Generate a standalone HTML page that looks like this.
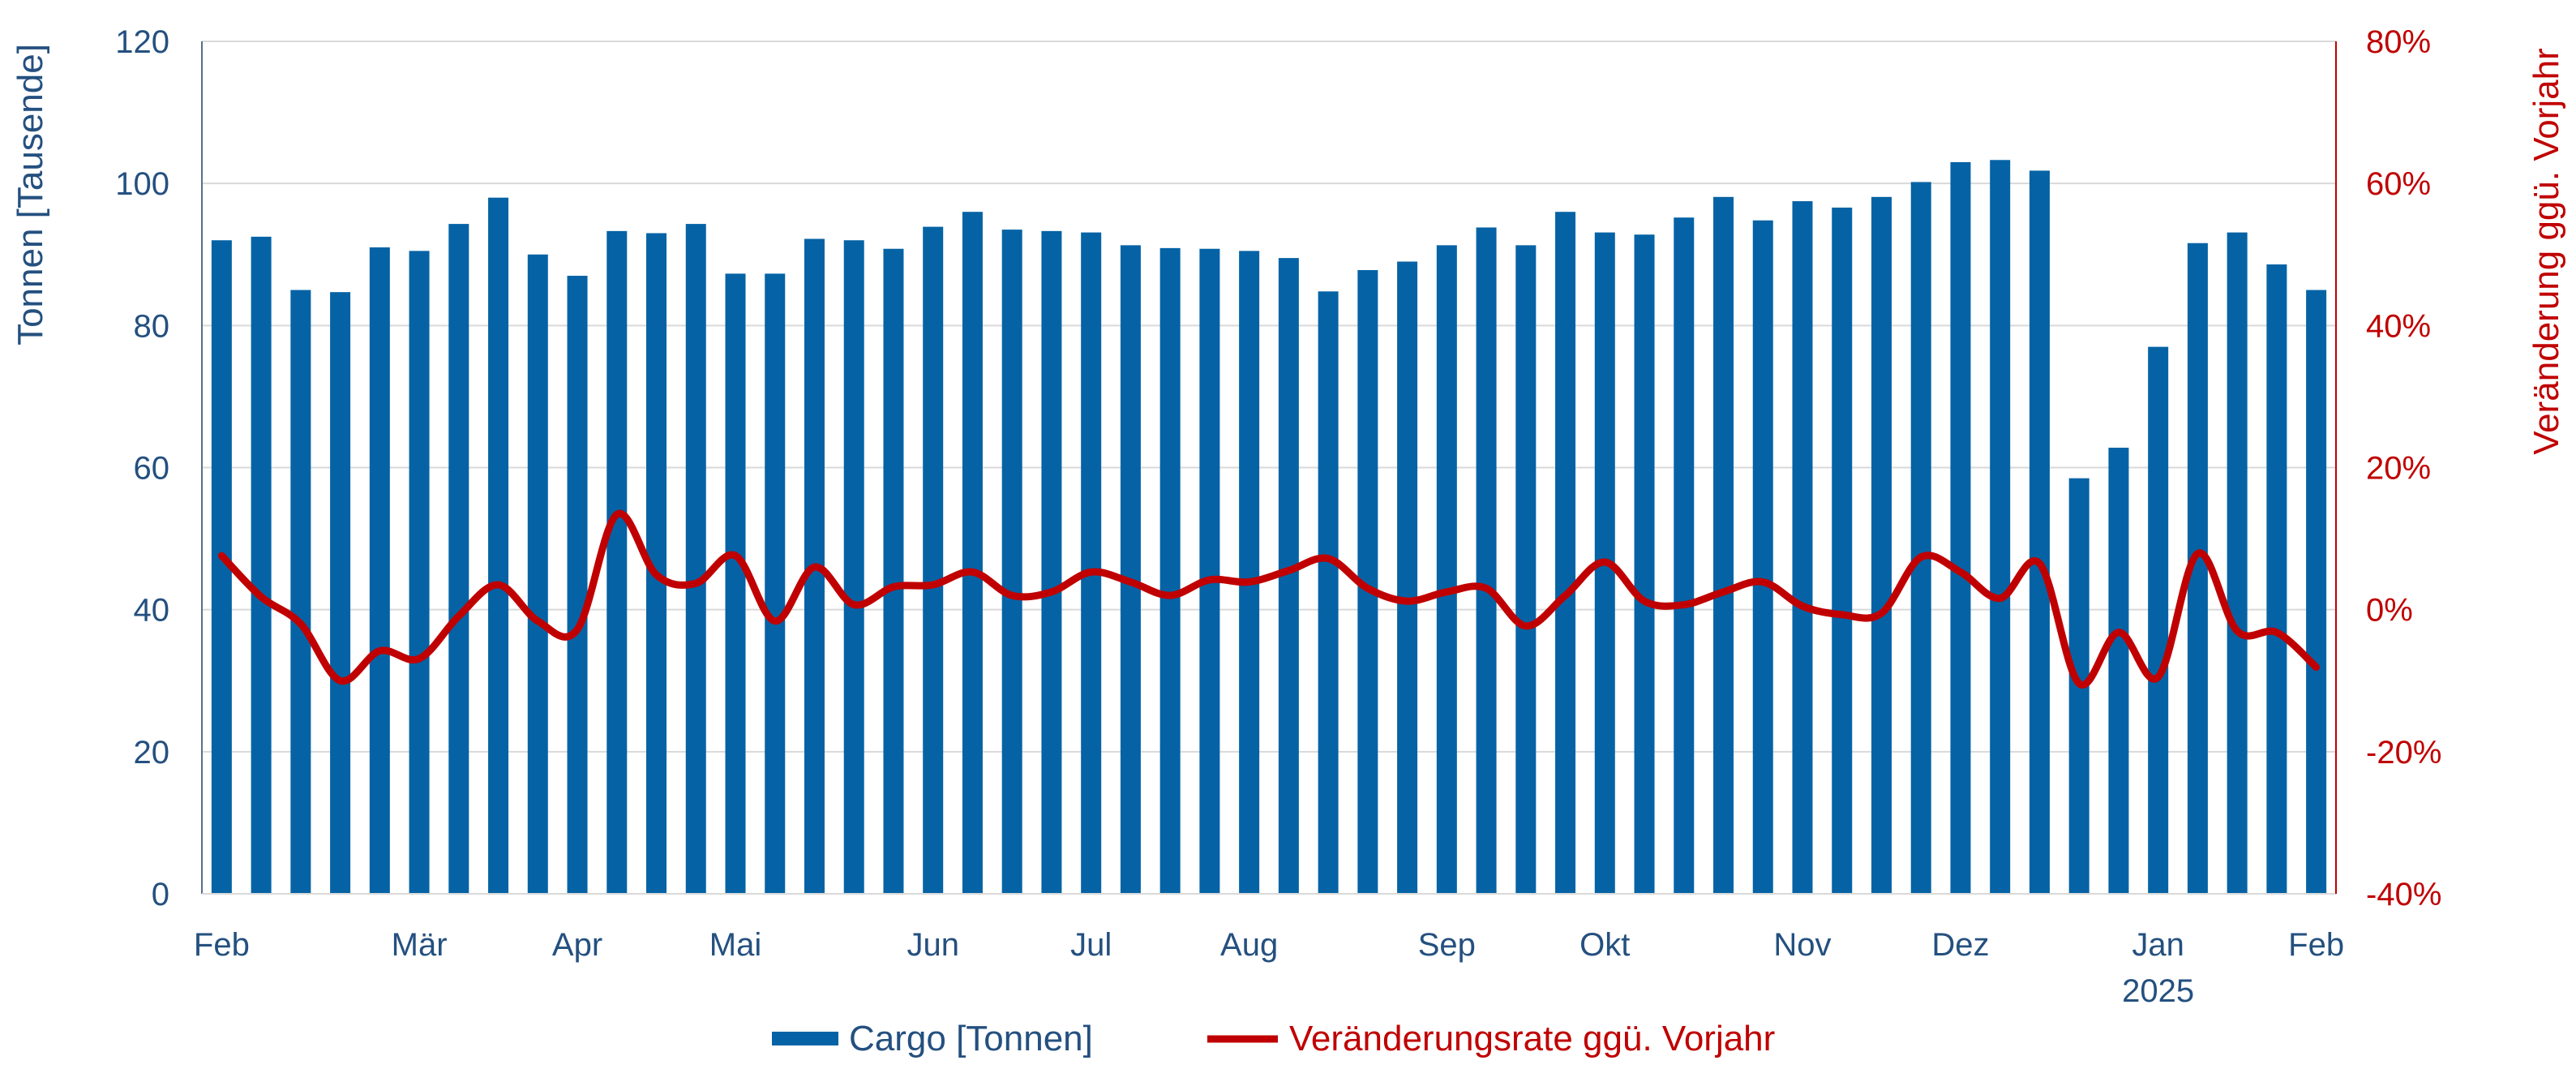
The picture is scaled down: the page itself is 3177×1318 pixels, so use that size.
<!DOCTYPE html>
<html><head><meta charset="utf-8"><style>
body{margin:0;background:#fff}
svg{display:block;font-family:"Liberation Sans",Arial,sans-serif}
</style></head><body>
<svg id="c" width="3177" height="1318" viewBox="0 0 3177 1318"></svg>
<script>
const cargo=[92,92.5,85,84.7,91,90.5,94.3,98,90,87,93.3,93,94.3,87.3,87.3,92.2,92,90.8,93.9,96,93.5,93.3,93.1,91.3,90.9,90.8,90.5,89.5,84.8,87.8,89,91.3,93.8,91.3,96,93.1,92.8,95.2,98.1,94.8,97.5,96.6,98.1,100.2,103,103.3,101.8,58.5,62.8,77,91.6,93.1,88.6,85];
const rate=[7.6,1.8,-2,-10,-5.8,-6.9,-0.9,3.5,-1.6,-2.8,13.4,4.9,3.7,7.6,-1.6,6,0.7,3.2,3.5,5.3,2,2.5,5.3,3.9,2,4.2,3.9,5.5,7.2,3,1.2,2.5,3,-2.3,2,6.7,1.2,0.7,2.5,3.9,0.5,-0.7,-0.5,7.4,5.3,1.6,6.5,-10.4,-3.2,-9.5,7.9,-3,-3.2,-8.1];
const leftTicks=[0,20,40,60,80,100,120];
const rightTicks=[-40,-20,0,20,40,60,80];
const monthLabels=["Feb","Mär","Apr","Mai","Jun","Jul","Aug","Sep","Okt","Nov","Dez","Jan","Feb"];
const monthIdx=[0,5,9,13,18,22,26,31,35,40,44,49,53];

const svg=document.getElementById('c');const NS="http://www.w3.org/2000/svg";
const L=249,R=2881,T=51,B=1102;
const band=(R-L)/cargo.length;
const xc=i=>L+(i+0.5)*band;
const yl=v=>B-(v/120)*(B-T);
const yr=v=>B-((v+40)/120)*(B-T);
function mk(tag,attrs,name,parent){const e=document.createElementNS(NS,tag);for(const k in attrs)e.setAttribute(k,attrs[k]);


(parent||svg).appendChild(e);return e;}
function txt(x,y,s,attrs,name){const e=mk('text',Object.assign({x:x,y:y},attrs),name);e.textContent=s;return e;}
const blue="#24507f",red="#c00000",bar="#0563a5";
leftTicks.forEach(v=>{
  if(v>0) mk('line',{x1:L,x2:R,y1:yl(v),y2:yl(v),stroke:"#d9d9d9","stroke-width":2},'gridline');
  txt(209,yl(v)+14,String(v),{fill:blue,"font-size":40,"text-anchor":"end"},'left-tick-label');
});
rightTicks.forEach(v=>{
  txt(2918,yr(v)+14,v+"%",{fill:red,"font-size":40},'right-tick-label');
});
cargo.forEach((v,i)=>{
  mk('rect',{x:xc(i)-12.5,y:yl(v),width:25,height:B-yl(v),fill:bar},'cargo-bar');
});
mk('line',{x1:L,x2:L,y1:T,y2:B,stroke:"#5a6f8a","stroke-width":2},'left-axis');
mk('line',{x1:L,x2:R,y1:B,y2:B,stroke:"#d9d9d9","stroke-width":2},'x-axis');
mk('line',{x1:R,x2:R,y1:T,y2:B,stroke:red,"stroke-width":2},'right-axis');
// smooth line (Catmull-Rom)
const pts=rate.map((v,i)=>[xc(i),yr(v)]);
let d="M"+pts[0][0]+","+pts[0][1];
for(let i=0;i<pts.length-1;i++){const p0=pts[Math.max(0,i-1)],p1=pts[i],p2=pts[i+1],p3=pts[Math.min(pts.length-1,i+2)];
const c1=[p1[0]+(p2[0]-p0[0])/6,p1[1]+(p2[1]-p0[1])/6],c2=[p2[0]-(p3[0]-p1[0])/6,p2[1]-(p3[1]-p1[1])/6];
d+=" C"+c1+" "+c2+" "+p2;}
mk('path',{d:d,fill:"none",stroke:red,"stroke-width":9,"stroke-linejoin":"round","stroke-linecap":"round"},'rate-line');
monthLabels.forEach((m,k)=>{txt(xc(monthIdx[k]),1178,m,{fill:blue,"font-size":40,"text-anchor":"middle"},'x-tick-label');});
txt(xc(49),1235,"2025",{fill:blue,"font-size":40,"text-anchor":"middle"},'year-label');
txt(0,0,"Tonnen [Tausende]",{fill:blue,"font-size":44,"text-anchor":"middle",transform:"translate(52,240) rotate(-90)"},'left-axis-title');
txt(0,0,"Veränderung ggü. Vorjahr",{fill:red,"font-size":44,"text-anchor":"middle",transform:"translate(3155,310) rotate(-90)"},'right-axis-title');
mk('rect',{x:952,y:1272,width:82,height:17,fill:bar},'legend-cargo-swatch');
txt(1047,1295,"Cargo [Tonnen]",{fill:blue,"font-size":44},'legend-cargo-label');
mk('line',{x1:1489,x2:1576,y1:1281,y2:1281,stroke:red,"stroke-width":9},'legend-rate-swatch');
txt(1590,1295,"Veränderungsrate ggü. Vorjahr",{fill:red,"font-size":44},'legend-rate-label');
</script>
</body></html>
